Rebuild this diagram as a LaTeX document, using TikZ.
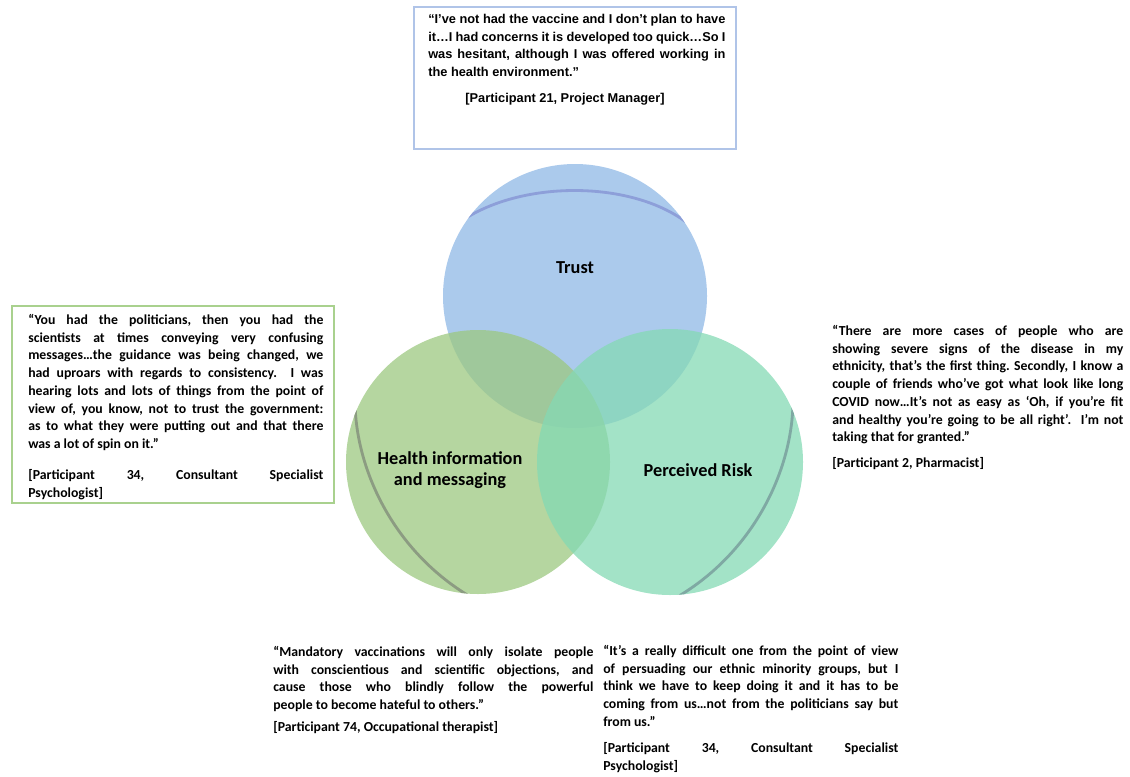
\documentclass[tikz,border=0pt]{standalone}
\usepackage{fontspec}
\setmainfont{Carlito}
\newfontfamily\arialfont{Liberation Sans}
\usetikzlibrary{positioning}
\definecolor{trustblue}{RGB}{143,184,230}
\definecolor{healthgreen}{RGB}{156,200,128}
\definecolor{riskgreen}{RGB}{132,217,180}
\definecolor{trustline}{RGB}{141,159,217}
\definecolor{healthline}{RGB}{140,156,130}
\definecolor{riskline}{RGB}{127,169,163}
\definecolor{trustframe}{RGB}{176,196,232}
\definecolor{healthframe}{RGB}{169,209,142}
\newcommand{\qfont}{\bfseries\fontsize{9.8}{12.6}\selectfont}
\newcommand{\tfont}{\arialfont\bfseries\fontsize{9.1}{12.6}\selectfont}
\frenchspacing

\begin{document}
\begin{tikzpicture}[x=0.025cm,y=-0.025cm,
    quote/.style={anchor=north west,inner sep=0pt,align=justify,font=\qfont},
    tquote/.style={anchor=north west,inner sep=0pt,align=justify,font=\tfont},
    circ/.style={fill opacity=0.75},
    label/.style={align=center,font=\bfseries\fontsize{13}{14.8}\selectfont},
    shine/.style={line width=2pt,line cap=round}]
    \useasboundingbox (0,0) rectangle (1130,776);

    % circles
    \fill[circ,trustblue] (575,296) circle[radius=132];
    \fill[circ,healthgreen] (478,462) circle[radius=132];
    \fill[circ,riskgreen] (670,462) circle[radius=133];
    \begin{scope}
      \clip (575,296) circle[radius=132];
      \draw[shine,trustline] (460,222) .. controls (520,180) and (630,180) .. (686,222);
    \end{scope}
    \begin{scope}
      \clip (478,462) circle[radius=132];
      \draw[shine,healthline] (355,400) .. controls (355,470) and (395,555) .. (476,600);
    \end{scope}
    \begin{scope}
      \clip (670,462) circle[radius=133];
      \draw[shine,riskline] (793,400) .. controls (793,470) and (753,555) .. (672,600);
    \end{scope}

    \node[label] (trust) at (575,268) {Trust};
    \node[label] (health) at (450,470) {Health information\\and messaging};
    \node[label] (risk) at (698,470) {Perceived Risk};

    % frames
    \draw[line width=2pt,trustframe] (414,7) rectangle (736,149);
    \draw[line width=2pt,healthframe] (12,306) rectangle (334,503);

    \node[tquote,text width=7.425cm] (q21) at (428,14) {“I’ve not had the vaccine and I don’t plan to have\linebreak it…I had concerns it is developed too quick…So I\linebreak was hesitant, although I was offered working in\linebreak the health environment.”};
    \node[anchor=north,inner sep=0pt,font=\tfont] (c21) at (565,93) {[Participant 21, Project Manager]};

    \node[quote,text width=7.375cm] (q34a) at (28,314) {“You had the politicians, then you had the\linebreak scientists at times conveying very confusing\linebreak messages…the guidance was being changed, we\linebreak had uproars with regards to consistency.\ \ I was\linebreak hearing lots and lots of things from the point of\linebreak view of, you know, not to trust the government:\linebreak as to what they were putting out and that there\linebreak was a lot of spin on it.”};
    \node[quote,text width=7.375cm] (c34a) at (28,469) {[Participant 34, Consultant Specialist\linebreak Psychologist]};

    \node[quote,text width=7.275cm] (q2) at (832,325) {“There are more cases of people who are\linebreak showing severe signs of the disease in my\linebreak ethnicity, that’s the first thing. Secondly, I know a\linebreak couple of friends who’ve got what look like long\linebreak COVID now…It’s not as easy as ‘Oh, if you’re fit\linebreak and healthy you’re going to be all right’.\ \ I’m not\linebreak taking that for granted.”};
    \node[quote,text width=7.275cm] (c2) at (832,457) {[Participant 2, Pharmacist]};

    \node[quote,text width=8cm] (q74) at (273,646) {“Mandatory vaccinations will only isolate people\linebreak with conscientious and scientific objections, and\linebreak cause those who blindly follow the powerful\linebreak people to become hateful to others.”};
    \node[quote,text width=8cm] (c74) at (273,721) {[Participant 74, Occupational therapist]};

    \node[quote,text width=7.375cm] (q34b) at (603,645) {“It’s a really difficult one from the point of view\linebreak of persuading our ethnic minority groups, but I\linebreak think we have to keep doing it and it has to be\linebreak coming from us…not from the politicians say but\linebreak from us.”};
    \node[quote,text width=7.375cm] (c34b) at (603,742) {[Participant 34, Consultant Specialist\linebreak Psychologist]};
\end{tikzpicture}
\end{document}
